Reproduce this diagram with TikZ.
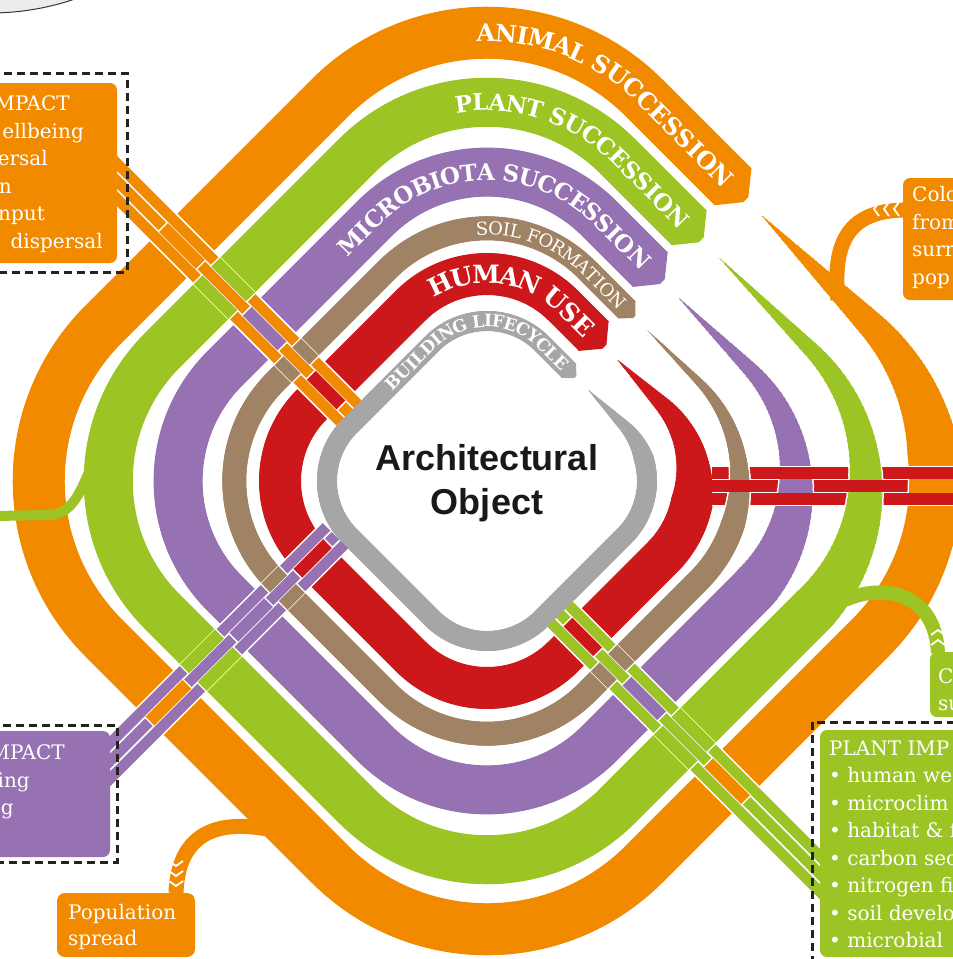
\documentclass[tikz,border=0pt]{standalone}
\usepackage{fontspec}
\setmainfont{DejaVu Serif}
\newfontfamily\objfont{Liberation Sans}
\usetikzlibrary{decorations.text}

\definecolor{animal}{HTML}{F28A00}
\definecolor{plant}{HTML}{9BC424}
\definecolor{micro}{HTML}{9672B2}
\definecolor{soil}{HTML}{A08364}
\definecolor{human}{HTML}{CD181B}
\definecolor{build}{HTML}{A6A6A6}
\definecolor{ink}{HTML}{222222}

\def\tapersteps{60}
% ring: s, corner radius, width, taper length, colour, taper start, arrow base, extra width, arrow length
\newcommand{\ringstroke}[9]{%
  \foreach \k in {1,...,\tapersteps}{%
    \pgfmathsetmacro{\wk}{#3*\k/\tapersteps+#8}%
    \pgfmathsetmacro{\uk}{#4/\tapersteps*(\k-1)}%
    \draw[#5, line width=\wk pt, rounded corners=#2pt,
      dash pattern=on 0pt off \uk pt on 6000pt off 10pt]
      (#1,#6) -- (#1,#1) -- (-#1,#1) -- (-#1,-#1) -- (#1,-#1) -- (#1,#7);
  }%
  \pgfmathsetmacro{\hw}{#3/2+#8/2}%
  \fill[#5] (#1-\hw,#7-1) -- (#1-\hw,#7) -- (#1-0.07*#3,#7+#9+#8/2)
    -- (#1+0.07*#3,#7+#9+#8/2) -- (#1+\hw,#7) -- (#1+\hw,#7-1) -- cycle;
}
\newcommand{\animalring}[2]{\ringstroke{382}{222}{52}{300}{#1}{7}{-34}{#2}{18}}
\newcommand{\plantring}[2]{\ringstroke{322}{185}{49}{420}{#1}{7}{-36}{#2}{17}}
\newcommand{\microring}[2]{\ringstroke{265}{159}{49}{340}{#1}{7}{-34}{#2}{17}}
\newcommand{\soilring}[2]{\ringstroke{220}{141}{24}{230}{#1}{7}{-22}{#2}{10}}
\newcommand{\humanring}[2]{\ringstroke{178}{108}{42}{170}{#1}{7}{-27}{#2}{15}}
\newcommand{\buildring}[2]{\ringstroke{136}{78}{20}{90}{#1}{7}{-20}{#2}{9}}
% rings that cover the middle strand / the outer strands
\newcommand{\oddrings}{\animalring{white}{3}\animalring{animal}{0}%
  \microring{white}{3}\microring{micro}{0}\humanring{white}{3}\humanring{human}{0}}
\newcommand{\evenrings}{\plantring{white}{3}\plantring{plant}{0}%
  \soilring{white}{3}\soilring{soil}{0}}
% label along a ring: s, corner radius, arrow base, raise, format, text
\newcommand{\ringlabel}[6]{%
  \path[decorate, decoration={text along path, text align={right, right indent=5pt},
    raise=#4pt, text={|#5|#6}}]
    (-#1+#2,-#1) -- (#1-#2,-#1) arc[start angle=-90, end angle=0, radius=#2] -- (#1,#3);}

\begin{document}
\begin{tikzpicture}[x=1pt, y=-1pt,
  ringframe/.style={shift={(487,481)}, rotate=45},
  boxtext/.style={anchor=base west, text=white, inner sep=0pt, font=\fontsize{20}{24}\selectfont},
  boxtextr/.style={boxtext, anchor=base east},
  dashbox/.style={draw=ink, line width=3pt, dash pattern=on 8pt off 5pt},
  strandsep/.style={white, line width=1.5pt},
  chevron/.style={white, line width=1.8pt},
  objtext/.style={anchor=base, inner sep=0pt, text=black!90, font=\objfont\bfseries\fontsize{36}{40}\selectfont},
]
\path[use as bounding box] (0,0) rectangle (953,959);
\clip (0,0) rectangle (953,959);

% grey disc in the corner
\filldraw[fill=gray!15, draw=black!80, line width=1pt] (-10,-250) circle[radius=263];

% the six rings
\begin{scope}[ringframe]
  \animalring{animal}{0}
  \plantring{plant}{0}
  \microring{micro}{0}
  \soilring{soil}{0}
  \humanring{human}{0}
  \buildring{build}{0}
\end{scope}

% ends of the branches
\coordinate (colin) at (904,210);
\coordinate (subin) at (938,653);
\coordinate (popin) at (176,893);
\coordinate (leftout) at (-5,516);

% branches
\draw[animal, line width=15pt] (838,300) .. controls (832,240) and (850,211) .. (colin);
\draw[animal, line width=15pt] (272,830) .. controls (215,818) and (178,835) .. (popin);
\draw[plant, line width=14pt] (845,600) .. controls (880,584) and (935,590) .. (subin);
\draw[plant, line width=10pt] (90,470) .. controls (80,492) and (72,514) .. (50,515) -- (leftout);
\foreach \cx in {874,884,894} \draw[chevron] (\cx+5,202) -- (\cx,209) -- (\cx+5,216);
\foreach \cy in {630,640} \draw[chevron] (931,\cy+5) -- (938,\cy) -- (945,\cy+5);
\foreach \cy in {866,876,886} \draw[chevron] (169,\cy-5) -- (176,\cy) -- (183,\cy-5);

% strands: animal impact
\begin{scope}[ringframe]
  \foreach \u in {-37,-49.5,-62} \fill[animal] (\u-6.25,-560) rectangle (\u+6.25,-146);
  \foreach \u in {-30.75,-43.25,-55.75,-68.25} \draw[strandsep] (\u,-560) -- (\u,-146);
  \begin{scope}
    \clip (-55.75,-560) rectangle (-43.25,-146);
    \def\tapersteps{1}\oddrings
  \end{scope}
  \begin{scope}
    \clip (-43.25,-560) rectangle (-30.75,-146) (-68.25,-560) rectangle (-55.75,-146);
    \def\tapersteps{1}\evenrings
  \end{scope}
\end{scope}

% strands: plant impact
\begin{scope}[ringframe]
  \foreach \u in {-30,-42.5,-55} \fill[plant] (\u-6.25,146) rectangle (\u+6.25,560);
  \foreach \u in {-23.75,-36.25,-48.75,-61.25} \draw[strandsep] (\u,146) -- (\u,560);
  \begin{scope}
    \clip (-48.75,146) rectangle (-36.25,560);
    \def\tapersteps{1}\oddrings
  \end{scope}
  \begin{scope}
    \clip (-36.25,146) rectangle (-23.75,560) (-61.25,146) rectangle (-48.75,560);
    \def\tapersteps{1}\evenrings
  \end{scope}
\end{scope}

% strands: microbiota impact
\begin{scope}[ringframe]
  \foreach \v in {-56,-68.5,-81} \fill[micro] (-560,\v-6.25) rectangle (-146,\v+6.25);
  \foreach \v in {-49.75,-62.25,-74.75,-87.25} \draw[strandsep] (-560,\v) -- (-146,\v);
  \begin{scope}
    \clip (-560,-74.75) rectangle (-146,-62.25);
    \def\tapersteps{1}\oddrings
  \end{scope}
  \begin{scope}
    \clip (-560,-62.25) rectangle (-146,-49.75) (-560,-87.25) rectangle (-146,-74.75);
    \def\tapersteps{1}\evenrings
  \end{scope}
\end{scope}

% strands: human use, to the right
\foreach \y in {473,486,499} \fill[human] (712,\y-6.5) rectangle (960,\y+6.5);
\foreach \y in {466.5,479.5,492.5,505.5} \draw[strandsep] (712,\y) -- (960,\y);
\begin{scope}
  \clip (712,479.5) rectangle (960,492.5);
  \begin{scope}[ringframe]
    \animalring{white}{3}\animalring{animal}{0}\microring{white}{3}\microring{micro}{0}
  \end{scope}
\end{scope}
\begin{scope}
  \clip (712,466.5) rectangle (960,479.5) (712,492.5) rectangle (960,505.5);
  \begin{scope}[ringframe]
    \evenrings
  \end{scope}
\end{scope}

% ring labels
\begin{scope}[ringframe]
  \ringlabel{382}{222}{-34}{-8.6}{\fontsize{24}{24}\selectfont\bfseries\color{white}}{ANIMAL SUCCESSION}
  \ringlabel{322}{185}{-36}{-8.3}{\fontsize{23}{23}\selectfont\bfseries\color{white}}{PLANT SUCCESSION}
  \ringlabel{265}{159}{-34}{-8.3}{\fontsize{23}{23}\selectfont\bfseries\color{white}}{MICROBIOTA SUCCESSION}
  \ringlabel{220}{141}{-22}{-6.5}{\fontsize{18}{18}\selectfont\color{white}}{SOIL FORMATION}
  \ringlabel{178}{108}{-27}{-9}{\fontsize{25}{25}\selectfont\bfseries\color{white}}{HUMAN USE}
  \ringlabel{136}{78}{-20}{-6}{\fontsize{17}{17}\selectfont\bfseries\color{white}}{BUILDING LIFECYCLE}
\end{scope}

% centre
\node[objtext] (objA) at (487,470) {Architectural};
\node[objtext] (objB) at (487,514) {Object};

% animal impact box
\fill[animal, rounded corners=7pt] (-20,83) rectangle (117,263);
\node[boxtextr] (ai1) at (70,110.5) {MPACT};
\node[boxtextr] (ai2) at (84,138) {ellbeing};
\node[boxtextr] (ai3) at (48,165.5) {ersal};
\node[boxtextr] (ai4) at (12,193) {n};
\node[boxtextr] (ai5) at (45,220.5) {nput};
\node[boxtextr] (ai6) at (103,248) {dispersal};
\draw[dashbox] (-10,73) rectangle (127,272);

% microbiota impact box
\fill[micro, rounded corners=7pt] (-20,731) rectangle (110,857);
\node[boxtextr] (mi1) at (65,759) {MPACT};
\node[boxtextr] (mi2) at (30,787) {ing};
\node[boxtextr] (mi3) at (14,814) {g};
\draw[dashbox] (-10,725) rectangle (117,862);

% colonisation box
\fill[animal, rounded corners=7pt] (903,178) rectangle (990,300);
\node[boxtext] (co1) at (912,201.5) {Colo};
\node[boxtext] (co2) at (912,229) {from};
\node[boxtext] (co3) at (912,256.5) {surr};
\node[boxtext] (co4) at (912,284) {pop};

% small plant box
\fill[plant, rounded corners=7pt] (930,652) rectangle (990,717);
\node[boxtext] (gs1) at (938,683) {C};
\node[boxtext] (gs2) at (938,710) {su};

% plant impact box
\fill[plant, rounded corners=7pt] (820,730) rectangle (990,957);
\node[boxtext] (pi1) at (829,755) {PLANT IMP};
\node[boxtext] (pi2) at (829,782.5) {• human we};
\node[boxtext] (pi3) at (829,810) {• microclim};
\node[boxtext] (pi4) at (829,837.5) {• habitat \& f};
\node[boxtext] (pi5) at (829,865) {• carbon sec};
\node[boxtext] (pi6) at (829,892.5) {• nitrogen fi};
\node[boxtext] (pi7) at (829,920) {• soil develo};
\node[boxtext] (pi8) at (829,947.5) {• microbial};
\draw[dashbox] (812,722) rectangle (975,975);

% population box
\fill[animal, rounded corners=8pt] (57,893) rectangle (195,957);
\node[boxtext] (ps1) at (68,919) {Population};
\node[boxtext] (ps2) at (68,945) {spread};
\end{tikzpicture}
\end{document}
